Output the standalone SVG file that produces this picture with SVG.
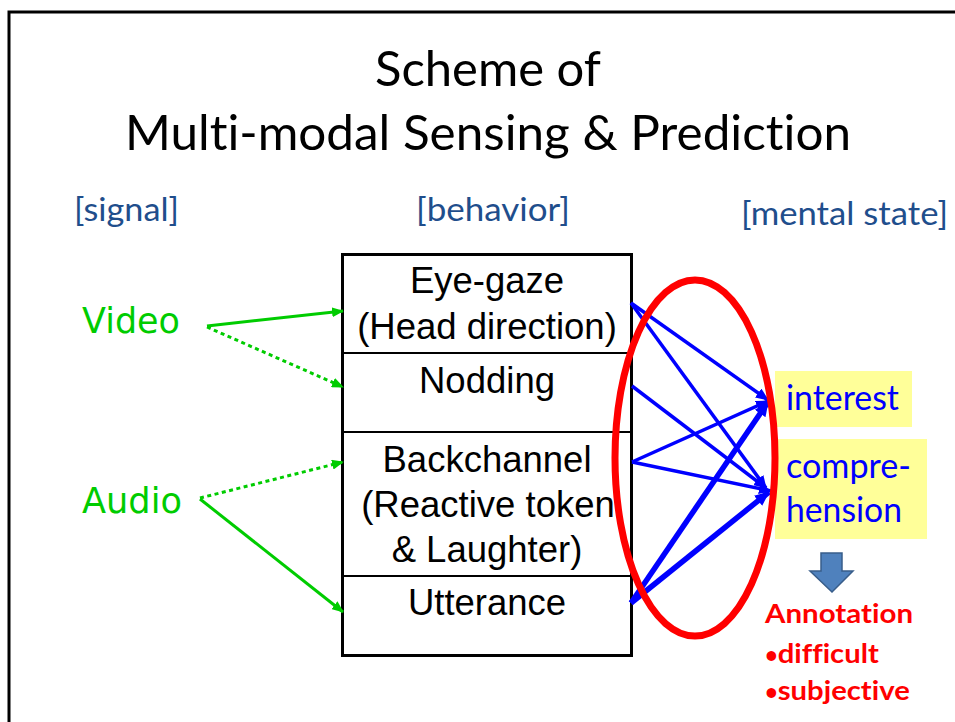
<svg xmlns="http://www.w3.org/2000/svg" width="955" height="722" viewBox="0 0 955 722">
  <style>
    text { font-variant-ligatures: none; font-feature-settings: "liga" 0, "clig" 0; }
    .title { font-family: Lato, "Open Sans", "Liberation Sans", sans-serif; font-size: 49px; fill: #000; }
    .layer { font-family: Lato, "Open Sans", "Liberation Sans", sans-serif; font-size: 32px; fill: #1F4E8C; }
    .signal { font-family: "DejaVu Sans", Verdana, sans-serif; font-size: 35px; fill: #00CC00; }
    .beh { font-family: "Liberation Sans", Arial, sans-serif; font-size: 36.5px; fill: #000; text-anchor: middle; }
    .state { font-family: Lato, "Open Sans", "Liberation Sans", sans-serif; font-size: 34px; fill: #0000FF; }
    .note { font-family: Lato, "Open Sans", "Liberation Sans", sans-serif; font-weight: bold; font-size: 27px; fill: #FF0000; }
    .bullet { font-size: 22px; }
    .box { fill: #fff; stroke: #000; stroke-width: 3; }
    .div { stroke: #000; stroke-width: 2; }
    .g-solid { stroke: #00CC00; stroke-width: 3; fill: none; marker-end: url(#headG); }
    .g-dot { stroke: #00CC00; stroke-width: 3; fill: none; stroke-dasharray: 4 3.5; marker-end: url(#headG); }
    .b { stroke: #0000FF; stroke-width: 3.5; fill: none; marker-end: url(#headB); }
    .b-thick { stroke: #0000FF; stroke-width: 5.5; fill: none; marker-end: url(#headBT); }
    .hl { fill: #FFFF99; }
  </style>
  <defs>
    <marker id="headG" viewBox="0 0 12 10" markerWidth="12" markerHeight="10" refX="11" refY="5" orient="auto" markerUnits="userSpaceOnUse">
      <path d="M0,0 L12,5 L0,10 Z" fill="#00CC00"/>
    </marker>
    <marker id="headB" viewBox="0 0 13 11" markerWidth="13" markerHeight="11" refX="12" refY="5.5" orient="auto" markerUnits="userSpaceOnUse">
      <path d="M0,0 L13,5.5 L0,11 Z" fill="#0000FF"/>
    </marker>
    <marker id="headBT" viewBox="0 0 15 13" markerWidth="15" markerHeight="13" refX="14" refY="6.5" orient="auto" markerUnits="userSpaceOnUse">
      <path d="M0,0 L15,6.5 L0,13 Z" fill="#0000FF"/>
    </marker>
  </defs>

  <rect width="955" height="722" fill="#fff"/>
  <!-- page frame (top and left edges) -->
  <path d="M9,722 L9,12 L955,12" fill="none" stroke="#000" stroke-width="3"/>

  <!-- heading -->
  <g id="title">
    <text class="title" x="375" y="86" textLength="226" lengthAdjust="spacingAndGlyphs">Scheme of</text>
    <text class="title" x="125" y="150" textLength="726" lengthAdjust="spacingAndGlyphs">Multi-modal Sensing &amp; Prediction</text>
  </g>

  <!-- column headings -->
  <g id="headings">
    <text class="layer" x="74" y="221" textLength="105" lengthAdjust="spacingAndGlyphs">[signal]</text>
    <text class="layer" x="416" y="221" textLength="154" lengthAdjust="spacingAndGlyphs">[behavior]</text>
    <text class="layer" x="741" y="225" textLength="207" lengthAdjust="spacingAndGlyphs">[mental state]</text>
  </g>

  <!-- input signals -->
  <g id="video"><text class="signal" x="82" y="333" textLength="98" lengthAdjust="spacingAndGlyphs">Video</text></g>
  <g id="audio"><text class="signal" x="82" y="513" textLength="100" lengthAdjust="spacingAndGlyphs">Audio</text></g>

  <!-- behavior stack -->
  <g id="behavior-box">
    <rect class="box" x="342.5" y="254.5" width="289" height="401"/>
    <line class="div" x1="342" y1="353" x2="632" y2="353"/>
    <line class="div" x1="342" y1="432" x2="632" y2="432"/>
    <line class="div" x1="342" y1="576" x2="632" y2="576"/>
  </g>
  <g id="eye-gaze">
    <text class="beh" x="487" y="293">Eye-gaze</text>
    <text class="beh" x="487" y="339">(Head direction)</text>
  </g>
  <g id="nodding"><text class="beh" x="487" y="393">Nodding</text></g>
  <g id="backchannel">
    <text class="beh" x="487" y="472">Backchannel</text>
    <text class="beh" x="488" y="517">(Reactive token</text>
    <text class="beh" x="487" y="562">&amp; Laughter)</text>
  </g>
  <g id="utterance"><text class="beh" x="487" y="615">Utterance</text></g>

  <!-- mental states -->
  <g id="interest">
    <rect class="hl" x="775" y="371" width="137" height="56"/>
    <text class="state" x="786" y="410" textLength="113" lengthAdjust="spacingAndGlyphs">interest</text>
  </g>
  <g id="comprehension">
    <rect class="hl" x="775" y="439" width="152" height="100"/>
    <text class="state" x="786" y="478" textLength="125" lengthAdjust="spacingAndGlyphs">compre-</text>
    <text class="state" x="786" y="522" textLength="116" lengthAdjust="spacingAndGlyphs">hension</text>
  </g>

  <!-- connectors -->
  <g id="connectors">
    <line class="g-solid" x1="207" y1="326" x2="343" y2="311"/>
    <line class="g-dot" x1="207" y1="327" x2="343" y2="387"/>
    <line class="g-dot" x1="200" y1="498" x2="343" y2="462"/>
    <line class="g-solid" x1="200" y1="499" x2="343" y2="612"/>

    <line class="b" x1="631" y1="303" x2="768" y2="400"/>
    <line class="b" x1="631" y1="303" x2="766" y2="488"/>
    <line class="b" x1="632" y1="386" x2="766" y2="488"/>
    <line class="b" x1="632" y1="462" x2="768" y2="401"/>
    <line class="b" x1="632" y1="462" x2="771" y2="491"/>
    <line class="b-thick" x1="631" y1="603" x2="768" y2="402"/>
    <line class="b-thick" x1="631" y1="603" x2="769" y2="492"/>
  </g>

  <!-- grouping ring around the behavior-to-state links -->
  <g id="ring">
    <ellipse cx="695" cy="458" rx="80" ry="178" fill="none" stroke="#FF0000" stroke-width="7"/>
  </g>

  <!-- annotation note -->
  <g id="annotation">
    <polygon points="821,553 842,553 842,571 853,571 832,592 810,571 821,571" fill="#4F81BD" stroke="#385D8A" stroke-width="1.5"/>
    <text class="note" x="765" y="623" textLength="148" lengthAdjust="spacingAndGlyphs">Annotation</text>
    <text class="note" x="765" y="663"><tspan class="bullet">•</tspan><tspan textLength="101" lengthAdjust="spacingAndGlyphs">difficult</tspan></text>
    <text class="note" x="765" y="700"><tspan class="bullet">•</tspan><tspan textLength="132" lengthAdjust="spacingAndGlyphs">subjective</tspan></text>
  </g>
</svg>
